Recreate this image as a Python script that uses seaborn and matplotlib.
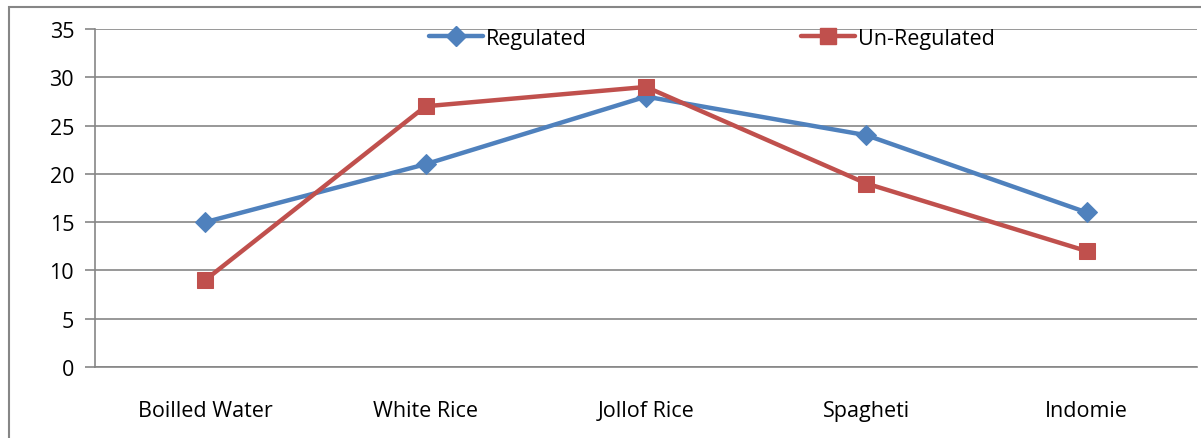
import matplotlib
matplotlib.use("Agg")
import matplotlib.pyplot as plt
import seaborn as sns
import pandas as pd
from matplotlib.lines import Line2D
from matplotlib.patches import Rectangle

categories = ["Boilled Water", "White Rice", "Jollof Rice", "Spagheti", "Indomie"]
regulated = [15, 21, 28, 24, 16]
unregulated = [9, 27, 29, 19, 12]
series_names = ["Regulated", "Un-Regulated"]
yticks = [0, 5, 10, 15, 20, 25, 30, 35]

blue = "#4F81BD"
red = "#C0504D"
grey = "#868686"

sns.set_style("white")
plt.rcParams["font.family"] = ["Open Sans", "DejaVu Sans"]
plt.rcParams["text.color"] = "black"
plt.rcParams["xtick.color"] = "black"
plt.rcParams["ytick.color"] = "black"

df = pd.DataFrame({
    "cat": categories * 2,
    "val": regulated + unregulated,
    "series": [series_names[0]] * 5 + [series_names[1]] * 5,
})

fig = plt.figure(figsize=(12.01, 4.39), dpi=100)
ax = fig.add_axes([95 / 1201, (439 - 368) / 439, (1197 - 95) / 1201, (368 - 30) / 439])

sns.lineplot(data=df[df.series == series_names[0]], x="cat", y="val", ax=ax,
             color=blue, lw=3.2, marker="D", markersize=10, markeredgecolor=blue,
             sort=False, legend=False)
sns.lineplot(data=df[df.series == series_names[1]], x="cat", y="val", ax=ax,
             color=red, lw=3.2, marker="s", markersize=12, markeredgecolor=red,
             sort=False, legend=False)

fs = 15.5
ax.set_xlim(-0.5, 4.5)
ax.set_ylim(0, 35)
ax.set_yticks(yticks)
ax.set_yticklabels([str(v) for v in yticks], fontsize=fs)
ax.yaxis.grid(True, color=grey, lw=1.2)
ax.set_axisbelow(True)
ax.set_xlabel("")
ax.set_ylabel("")

ax.set_xticks(range(len(categories)))
ax.set_xticklabels(categories, fontsize=fs)
ax.set_xticks([i - 0.5 for i in range(len(categories) + 1)], minor=True)
ax.tick_params(axis="x", which="major", length=0, pad=24)
ax.tick_params(axis="x", which="minor", length=7, color=grey, width=1.2, direction="out")
ax.tick_params(axis="y", length=7, color=grey, width=1.2, direction="out", pad=8, left=True)

for s in ["top", "right"]:
    ax.spines[s].set_visible(False)
for s in ["left", "bottom"]:
    ax.spines[s].set_color(grey)
    ax.spines[s].set_linewidth(1.2)

handles = [
    Line2D([], [], color=blue, lw=3.2, marker="D", markersize=10),
    Line2D([], [], color=red, lw=3.2, marker="s", markersize=12),
]
ax.legend(handles, series_names, ncol=2, frameon=False, fontsize=fs,
          loc="center", bbox_to_anchor=(712 / 1201, 1 - 39 / 439), bbox_transform=fig.transFigure,
          handlelength=2.5, handletextpad=0.15, columnspacing=9.95)

fig.patches.append(Rectangle((9 / 1201, -0.01), 1.1, (439 - 8) / 439 + 0.01,
                             transform=fig.transFigure, fill=False,
                             edgecolor=grey, lw=1.5))

fig.savefig("out.png", dpi=100)
